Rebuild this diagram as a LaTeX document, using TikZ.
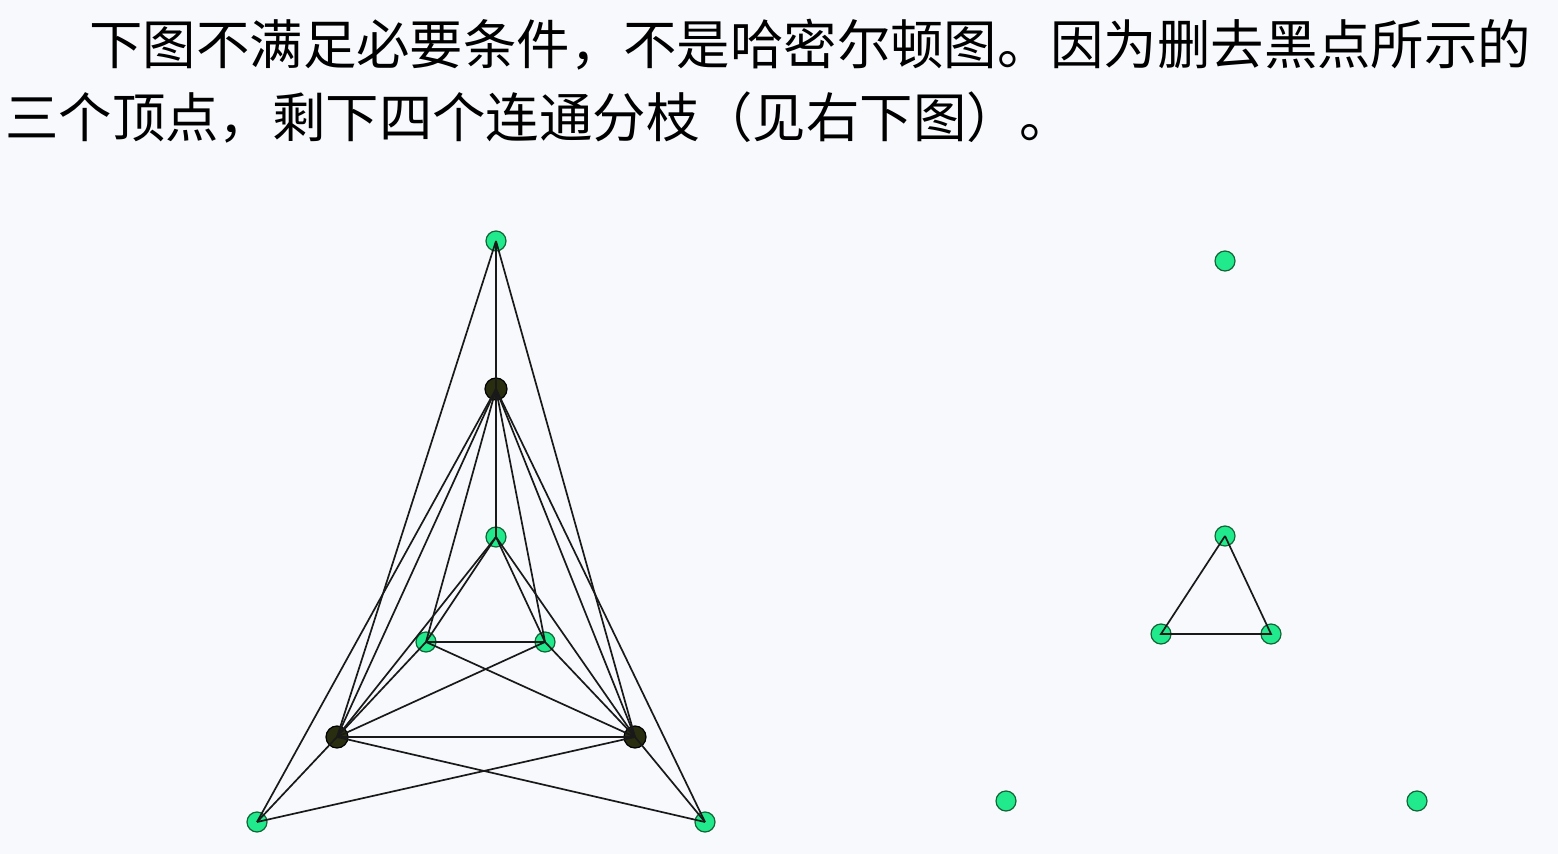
\documentclass[tikz,border=0pt]{standalone}
\usepackage{fontspec}
\newfontfamily\cjk{Noto Sans CJK SC}
\definecolor{bgc}{RGB}{247,249,252}
\definecolor{gfill}{RGB}{32,234,140}
\definecolor{gline}{RGB}{20,100,55}
\definecolor{bfill}{RGB}{42,46,16}
\definecolor{edgec}{RGB}{25,25,25}
\begin{document}
\begin{tikzpicture}[x=0.5pt,y=-0.5pt,
  gv/.style={circle,draw=gline,fill=gfill,line width=0.6pt,inner sep=0pt,minimum size=10pt},
  bv/.style={circle,draw=black,fill=bfill,line width=0.6pt,inner sep=0pt,minimum size=11pt},
  ed/.style={draw=edgec,line width=0.85pt},
  txt/.style={anchor=west,inner sep=0pt,font=\cjk\fontsize{26.7pt}{36pt}\selectfont}]
\fill[bgc] (0,0) rectangle (1558,854);
\useasboundingbox (0,0) rectangle (1558,854);
% text
\node[txt] (l1) at (89,45) {下图不满足必要条件，不是哈密尔顿图。因为删去黑点所示的};
\node[txt] (l2) at (5,118) {三个顶点，剩下四个连通分枝（见右下图）。};
% left graph vertices
\node[gv] (T) at (496,241) {};
\node[bv] (A) at (496,389) {};
\node[gv] (I) at (496,537) {};
\node[gv] (L) at (426,642) {};
\node[gv] (R) at (545,642) {};
\node[bv] (B) at (337,737) {};
\node[bv] (C) at (635,737) {};
\node[gv] (P) at (257,822) {};
\node[gv] (Q) at (705,822) {};
% left graph edges
\foreach \u/\v in {T/A,T/B,T/C,A/I,A/L,A/R,A/B,A/C,A/P,A/Q,
                   I/B,I/C,I/L,I/R,L/R,L/B,L/C,R/B,R/C,
                   B/C,B/P,B/Q,C/P,C/Q}
  \draw[ed] (\u.center) -- (\v.center);
% right graph
\node[gv] (T2) at (1225,261) {};
\node[gv] (I2) at (1225,536) {};
\node[gv] (L2) at (1161,634) {};
\node[gv] (R2) at (1271,634) {};
\node[gv] (P2) at (1006,801) {};
\node[gv] (Q2) at (1417,801) {};
\draw[ed] (I2.center) -- (L2.center) -- (R2.center) -- (I2.center);
\end{tikzpicture}
\end{document}
